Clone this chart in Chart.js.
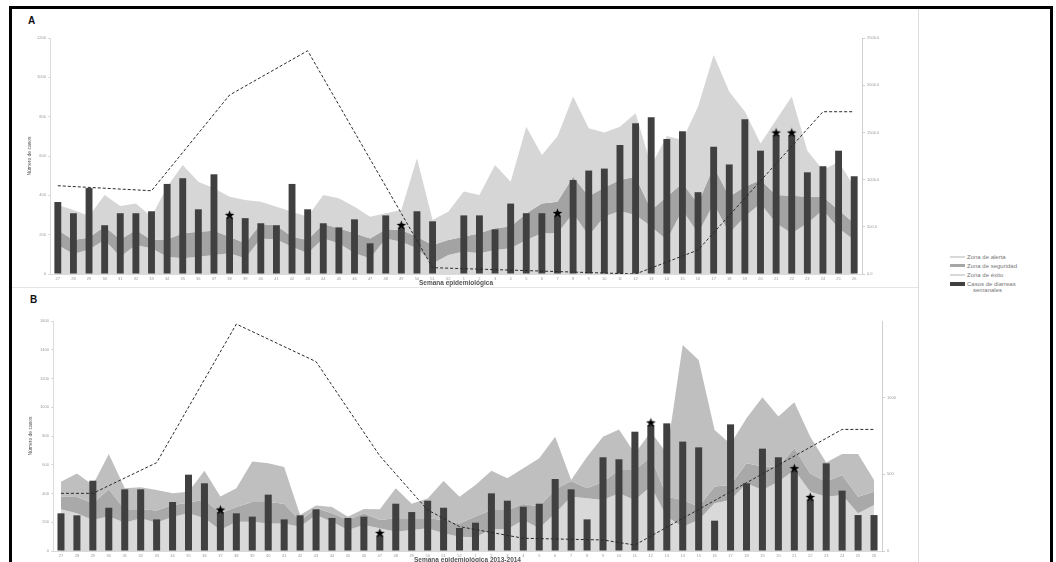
<!DOCTYPE html>
<html>
<head>
<meta charset="utf-8">
<script src="https://cdn.jsdelivr.net/npm/chart.js@4.4.1/dist/chart.umd.min.js"></script>
<style>
    html, body { margin: 0; padding: 0; background: #fff; overflow: hidden; }
    body { width: 1056px; height: 562px; position: relative; font-family: "Liberation Sans", Arial, sans-serif; }
    #frame { position: absolute; left: 9px; top: 6px; width: 1038px; height: 600px; border: 3px solid #000; }
    .sep-v { position: absolute; left: 918px; top: 9px; width: 1px; height: 560px; background: #dcdcdc; }
    .sep-h { position: absolute; left: 12px; top: 287px; width: 906px; height: 1px; background: #e4e4e4; }
    .panel { position: absolute; font-weight: bold; font-size: 10px; line-height: 10px; color: #111; }
    canvas { position: absolute; }
    .leg { position: absolute; left: 950px; height: 7px; display: flex; align-items: center; font-size: 6px; color: #777; white-space: nowrap; }
    .leg i { display: inline-block; width: 15px; margin-right: 2px; }
</style>
</head>
<body>
<div id="frame"></div>
<div class="sep-v"></div>
<div class="sep-h"></div>
<div class="panel" style="left:28px; top:16px;">A</div>
<div class="panel" style="left:30px; top:295px;">B</div>
<canvas id="chart-a" width="906" height="278" style="left:12px; top:9px;"></canvas>
<canvas id="chart-b" width="906" height="277" style="left:12px; top:289px;"></canvas>

<div class="leg" style="top:253px;"><i style="height:2px; background:#d9d9d9;"></i>Zona de alerta</div>
<div class="leg" style="top:262px;"><i style="height:3px; background:#a6a6a6;"></i>Zona de seguridad</div>
<div class="leg" style="top:271px;"><i style="height:2px; background:#d9d9d9;"></i>Zona de éxito</div>
<div class="leg" style="top:280px;"><i style="height:4px; background:#404040;"></i>Casos de diarreas</div>
<div class="leg" style="top:286px; left:973px;">semanales</div>

<script>
// Epidemiological weeks (27..52, then 1..26)
const weeks = ['27', '28', '29', '30', '31', '32', '33', '34', '35', '36', '37', '38', '39', '40', '41', '42', '43', '44', '45', '46', '47', '48', '49', '50', '51', '52',
    '1', '2', '3', '4', '5', '6', '7', '8', '9', '10', '11', '12', '13', '14', '15', '16', '17', '18', '19', '20', '21', '22', '23', '24', '25', '26'];

// Panel A
const casosA = [366, 309, 437, 248, 309, 309, 319, 458, 487, 329, 507, 288, 284, 258, 248, 458, 329, 258, 237, 278, 156, 298, 237, 319, 268, null,
    298, 298, 227, 358, 309, 309, 298, 478, 526, 536, 656, 766, 797, 687, 726, 416, 647, 557, 787, 627, 707, 707, 517, 548, 627, 497];
const exitoA = [147, 102, 125, 173, 88, 147, 131, 88, 80, 88, 97, 105, 80, 181, 176, 139, 105, 181, 156, 105, 80, 181, 164, 131, 54, 97,
    114, 105, 122, 131, 173, 207, 207, 309, 195, 292, 320, 300, 241, 173, 325, 207, 359, 207, 292, 359, 258, 207, 258, 325, 232, 173];
const seguridadA = [224, 173, 186, 241, 176, 224, 173, 176, 207, 215, 220, 190, 156, 254, 247, 190, 173, 254, 232, 207, 181, 227, 224, 190, 147, 173,
    190, 207, 232, 241, 308, 359, 368, 495, 395, 440, 478, 495, 325, 393, 461, 359, 546, 393, 444, 478, 402, 398, 393, 393, 325, 258];
const alertaA = [351, 325, 295, 402, 346, 359, 291, 444, 554, 469, 436, 393, 376, 368, 342, 317, 291, 402, 385, 342, 291, 309, 325, 588, 275, 317,
    419, 402, 554, 469, 749, 605, 700, 902, 741, 719, 749, 817, 550, 702, 681, 851, 1114, 927, 826, 664, 783, 902, 627, 529, 571, 444];
const lineaA = [935, null, null, null, null, null, 882, null, null, null, null, 1896, null, null, null, null, 2365, null, null, null, null, null, null, null, 67, null,
    null, null, null, null, null, null, null, null, null, null, null, 0, null, null, null, 254, null, null, null, null, null, null, null, 1719, null, 1719];
const estrellasA = ['38', '49', '7', '21', '22'];

// Panel B
const casosB = [262, 248, 489, 301, 429, 429, 220, 341, 531, 471, 271, 262, 239, 392, 220, 248, 290, 230, 230, 239, 109, 329, 271, 350, 301, 160,
    197, 401, 350, 308, 329, 501, 429, 220, 652, 638, 830, 877, 888, 761, 721, 211, 881, 471, 712, 652, 559, 359, 610, 420, 250, 250];
const exitoB = [290, 262, 216, 241, 197, 227, 197, 239, 262, 227, 146, 204, 204, 192, 192, 169, 250, 204, 146, 181, 158, 134, 146, 158, 123, 100,
    95, 151, 151, 216, 158, 262, 378, 367, 355, 401, 355, 448, 239, 169, 216, 332, 355, 471, 424, 482, 564, 413, 378, 390, 262, 320];
const seguridadB = [378, 375, 333, 427, 290, 290, 281, 320, 336, 359, 262, 306, 341, 341, 329, 211, 297, 262, 216, 262, 216, 227, 227, 227, 216, 192,
    240, 285, 285, 327, 309, 429, 487, 436, 482, 563, 563, 656, 378, 355, 309, 448, 459, 610, 587, 587, 714, 540, 482, 529, 378, 413];
const alertaB = [482, 540, 459, 675, 436, 443, 425, 401, 413, 559, 380, 436, 622, 610, 584, 250, 317, 306, 239, 292, 290, 436, 329, 366, 487, 378,
    459, 559, 506, 575, 645, 795, 494, 656, 795, 846, 679, 830, 679, 1433, 1329, 842, 744, 923, 1069, 935, 1034, 795, 615, 675, 675, 494];
const lineaB = [376, null, 376, null, null, null, 576, null, null, null, null, 1480, null, null, null, null, 1235, null, null, null, 620, null, null, 267, null, 159,
    null, null, null, 83, null, null, null, null, 72, null, 39, null, null, null, null, null, null, null, null, null, null, null, null, 793, null, 793];
const estrellasB = ['37', '47', '12', '21', '22'];

// Filled star used as point marker (drawn a little above the point)
function starImage() {
    const c = document.createElement('canvas');
    c.width = 11;
    c.height = 15;
    const g = c.getContext('2d');
    g.fillStyle = '#000';
    g.beginPath();
    for (let i = 0; i < 10; i++) {
        const r = i % 2 === 0 ? 5 : 2.1;
        const a = -Math.PI / 2 + i * Math.PI / 5;
        const px = 5.5 + r * Math.cos(a);
        const py = 5.5 + r * Math.sin(a);
        if (i === 0) g.moveTo(px, py); else g.lineTo(px, py);
    }
    g.closePath();
    g.fill();
    return c;
}
const star = starImage();

function area(data, color, fill, order) {
    return {
        type: 'line', data: data, fill: fill, backgroundColor: color,
        borderColor: 'rgba(0,0,0,0)', borderWidth: 0, pointRadius: 0, order: order
    };
}

function buildChart(id, p) {
    const ctx = document.getElementById(id).getContext('2d');
    const stars = weeks.map((w, i) => p.estrellas.includes(w) ? p.casos[i] : null);
    const tickFont = { family: 'Liberation Sans', size: 4 };
    return new Chart(ctx, {
        type: 'bar',
        data: {
            labels: weeks,
            datasets: [
                area(p.exito, '#d9d9d9', 'origin', 5),
                area(p.seguridad, p.segColor, '-1', 4),
                area(p.alerta, p.alertaColor, '-1', 3),
                {
                    type: 'bar', data: p.casos, backgroundColor: '#404040',
                    barPercentage: 0.44, categoryPercentage: 1, order: 2
                },
                {
                    type: 'line', data: p.linea, yAxisID: 'y1', borderColor: '#2a2a2a', borderWidth: 1,
                    borderDash: [3, 2], pointRadius: 0, spanGaps: true, fill: false, order: 1
                },
                {
                    type: 'line', data: stars, showLine: false, pointStyle: star,
                    pointRadius: 4, fill: false, order: 0
                }
            ]
        },
        options: {
            responsive: false,
            animation: false,
            layout: { padding: { top: p.top, left: 0, right: 0, bottom: 0 } },
            plugins: { legend: { display: false }, tooltip: { enabled: false } },
            scales: {
                x: {
                    offset: true,
                    grid: { display: false, drawTicks: false },
                    border: { display: true, color: '#dadada' },
                    ticks: { autoSkip: false, maxRotation: 0, font: tickFont, color: '#999', padding: 2 },
                    title: {
                        display: true, text: p.xTitle, color: '#555',
                        font: { family: 'Liberation Sans', size: 6.5, weight: 'bold' },
                        padding: { top: 0, bottom: p.xTitlePad }
                    },
                    afterFit: s => { s.height = p.xHeight; }
                },
                y: {
                    min: 0, max: p.yMax,
                    ticks: { stepSize: 200, font: tickFont, color: '#999', padding: 2, callback: v => String(v) },
                    grid: { drawOnChartArea: false, tickLength: 2, color: '#dadada' },
                    border: { color: '#dadada' },
                    title: {
                        display: true, text: 'Número de casos', color: '#555',
                        font: { family: 'Liberation Sans', size: 5 },
                        padding: { top: p.yTitlePad, bottom: 0 }
                    },
                    afterFit: s => { s.width = p.yWidth; }
                },
                y1: {
                    position: 'right', min: 0, max: p.y1Max,
                    ticks: { stepSize: 500, font: tickFont, color: '#999', padding: 2, callback: p.y1Label },
                    grid: { drawOnChartArea: false, tickLength: 3, color: '#cfcfcf' },
                    border: { color: '#cfcfcf' },
                    afterFit: s => { s.width = p.y1Width; }
                }
            }
        }
    });
}

buildChart('chart-a', {
    casos: casosA, exito: exitoA, seguridad: seguridadA, alerta: alertaA, linea: lineaA, estrellas: estrellasA,
    segColor: '#a3a3a3', alertaColor: '#d6d6d6',
    yMax: 1200, y1Max: 2500, y1Label: v => v.toFixed(1),
    top: 29, yWidth: 38, y1Width: 56, xHeight: 13, xTitlePad: 0, yTitlePad: 15,
    xTitle: 'Semana epidemiológica'
});

buildChart('chart-b', {
    casos: casosB, exito: exitoB, seguridad: seguridadB, alerta: alertaB, linea: lineaB, estrellas: estrellasB,
    segColor: '#a9a9a9', alertaColor: '#bfbfbf',
    yMax: 1600, y1Max: 1500, y1Label: v => v > 1000 ? null : String(v),
    top: 32, yWidth: 41, y1Width: 36, xHeight: 15, xTitlePad: 2, yTitlePad: 16,
    xTitle: 'Semana epidemiológica 2013-2014'
});
</script>
</body>
</html>
